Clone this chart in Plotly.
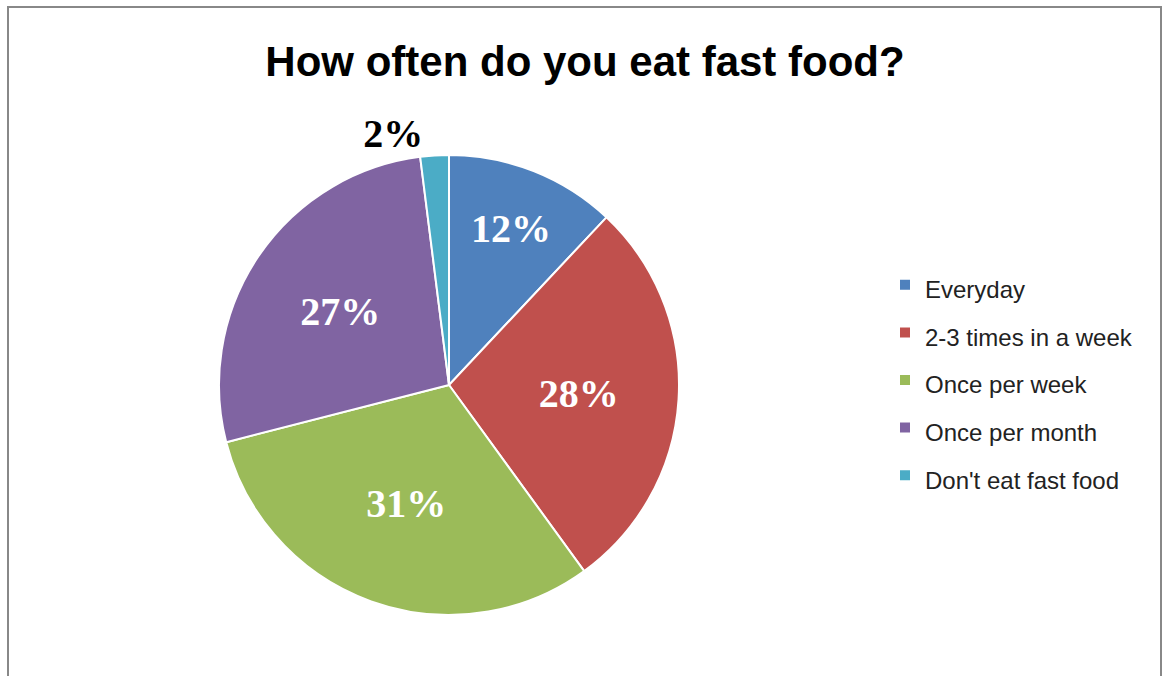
import plotly.graph_objects as go

categories = ["Everyday", "2-3 times in a week", "Once per week", "Once per month", "Don't eat fast food"]
values = [12, 28, 31, 27, 2]
colors = ["#4F81BD", "#C0504D", "#9BBB59", "#8064A2", "#4BACC6"]
text_positions = ["inside", "inside", "inside", "inside", "outside"]

W, H = 1167, 676
cx, cy, r = 449, 385, 230

legend_labels = ['<span style="font-size:24px">%s</span>' % c for c in categories]

fig = go.Figure(go.Pie(
    labels=legend_labels,
    values=values,
    sort=False,
    direction="clockwise",
    rotation=0,
    marker=dict(colors=colors, line=dict(color="white", width=2)),
    texttemplate="%{percent:.0%}",
    textposition=text_positions,
    insidetextorientation="horizontal",
    insidetextfont=dict(family="Liberation Serif", size=40, color="white", weight="bold"),
    outsidetextfont=dict(family="Liberation Serif", size=40, color="black", weight="bold"),
    domain=dict(x=[(cx - r) / W, (cx + r) / W], y=[(H - cy - r) / H, (H - cy + r) / H]),
    hoverinfo="skip",
))

fig.update_layout(
    width=W, height=H,
    margin=dict(l=0, r=0, t=0, b=0),
    paper_bgcolor="white",
    plot_bgcolor="white",
    title=dict(text="<b>How often do you eat fast food?</b>", x=585 / W, xanchor="center",
               y=1 - 61 / H, yanchor="middle",
               font=dict(family="Liberation Sans", size=42, color="black")),
    legend=dict(x=885 / W, y=1 - 256 / H, xanchor="left", yanchor="top",
                font=dict(family="Liberation Sans", size=34.3, color="#222"),
                itemsizing="constant", traceorder="normal"),
    shapes=[dict(type="rect", xref="paper", yref="paper",
                 x0=8 / W, x1=1161 / W, y0=-0.1, y1=1 - 7 / H,
                 line=dict(color="#888888", width=2), fillcolor="rgba(0,0,0,0)", layer="below")],
)

fig.write_html("out.html", config={"displayModeBar": False},
               post_script="document.body.style.margin='0';")
